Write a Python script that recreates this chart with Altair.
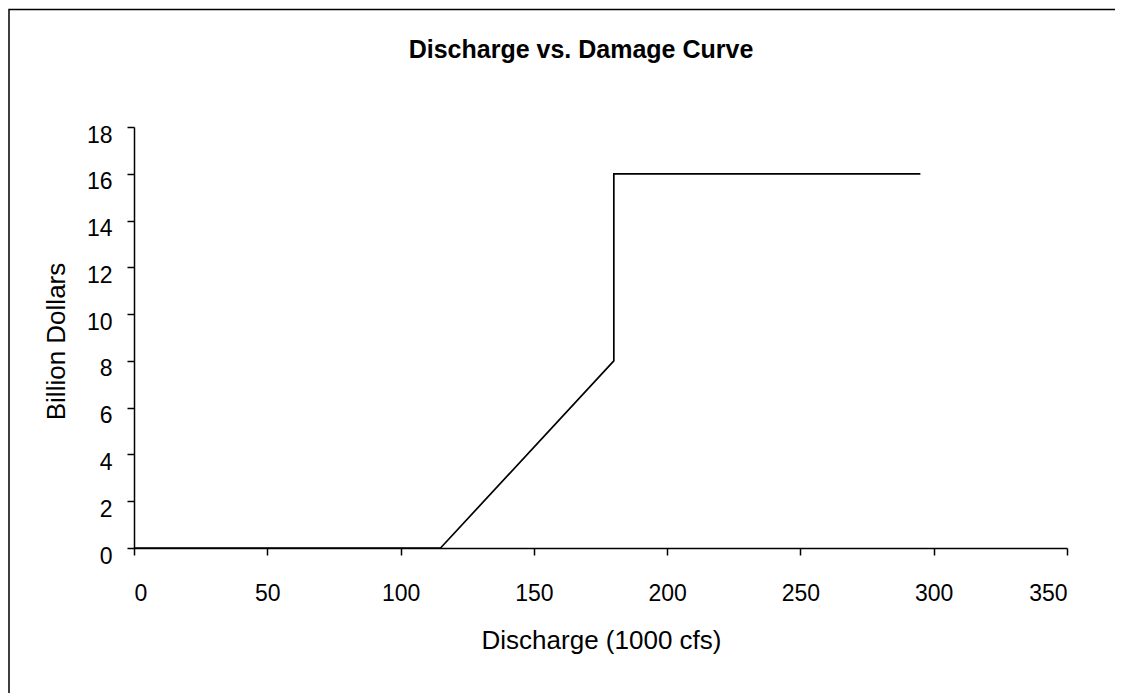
import altair as alt
import pandas as pd

# Data
discharge = [0, 115, 180, 180, 295]      # 1000 cfs
damage = [0, 0, 8, 16, 16]               # billion dollars
order = [0, 1, 2, 3, 4]

x_ticks = [0, 50, 100, 150, 200, 250, 300, 350]
y_ticks = [0, 2, 4, 6, 8, 10, 12, 14, 16, 18]

chart_title = "Discharge vs. Damage Curve"

df = pd.DataFrame({"discharge": discharge, "damage": damage, "order": order})

FONT = "Liberation Sans"
W, H = 933, 421

line = alt.Chart(df).mark_line(color="black", strokeWidth=1.7, clip=False).encode(
    x=alt.X(
        "discharge:Q",
        scale=alt.Scale(domain=[0, 350], nice=False, zero=True),
        axis=alt.Axis(
            values=x_ticks,
            title="Discharge (1000 cfs)",
            grid=False,
            domainColor="black",
            domainWidth=1.5,
            tickColor="black",
            tickWidth=1.5,
            tickSize=7,
            labelFont=FONT,
            labelFontSize=23,
            labelColor="black",
            labelPadding=27,
            titleFont=FONT,
            titleFontSize=26,
            titleFontWeight="normal",
            titleColor="black",
            titleX=467,
            titleY=92,
            titleBaseline="middle",
        ),
    ),
    y=alt.Y(
        "damage:Q",
        scale=alt.Scale(domain=[0, 18], nice=False),
        axis=alt.Axis(
            values=y_ticks,
            title="Billion Dollars",
            grid=False,
            domainColor="black",
            domainWidth=1.5,
            tickColor="black",
            tickWidth=1.5,
            tickSize=7,
            labelFont=FONT,
            labelFontSize=23,
            labelColor="black",
            labelPadding=15,
            labelOffset=8,
            titleFont=FONT,
            titleFontSize=26,
            titleFontWeight="normal",
            titleColor="black",
            titleAngle=270,
            titleX=-78,
            titleY=214,
            titleBaseline="middle",
        ),
    ),
    order="order:Q",
)

border = alt.Chart(pd.DataFrame({"k": [0]})).mark_rect(
    fill=None, stroke="black", strokeWidth=1.5, clip=False
).encode(
    x=alt.value(-125), x2=alt.value(1000),
    y=alt.value(-117.5), y2=alt.value(580),
)

title_text = alt.Chart(pd.DataFrame({"t": [chart_title]})).mark_text(
    font=FONT, fontSize=25, fontWeight="bold", color="black",
    align="center", baseline="middle", clip=False,
).encode(
    text="t:N",
    x=alt.value(447),
    y=alt.value(-77),
)

chart = alt.layer(border, title_text, line).properties(
    width=W,
    height=H,
    autosize=alt.AutoSizeParams(type="none"),
    padding={"left": 126, "top": 119, "right": 48, "bottom": 145},
    background="white",
).configure_view(stroke=None)

chart.save("out.html", embed_options={"renderer": "svg", "actions": False})
